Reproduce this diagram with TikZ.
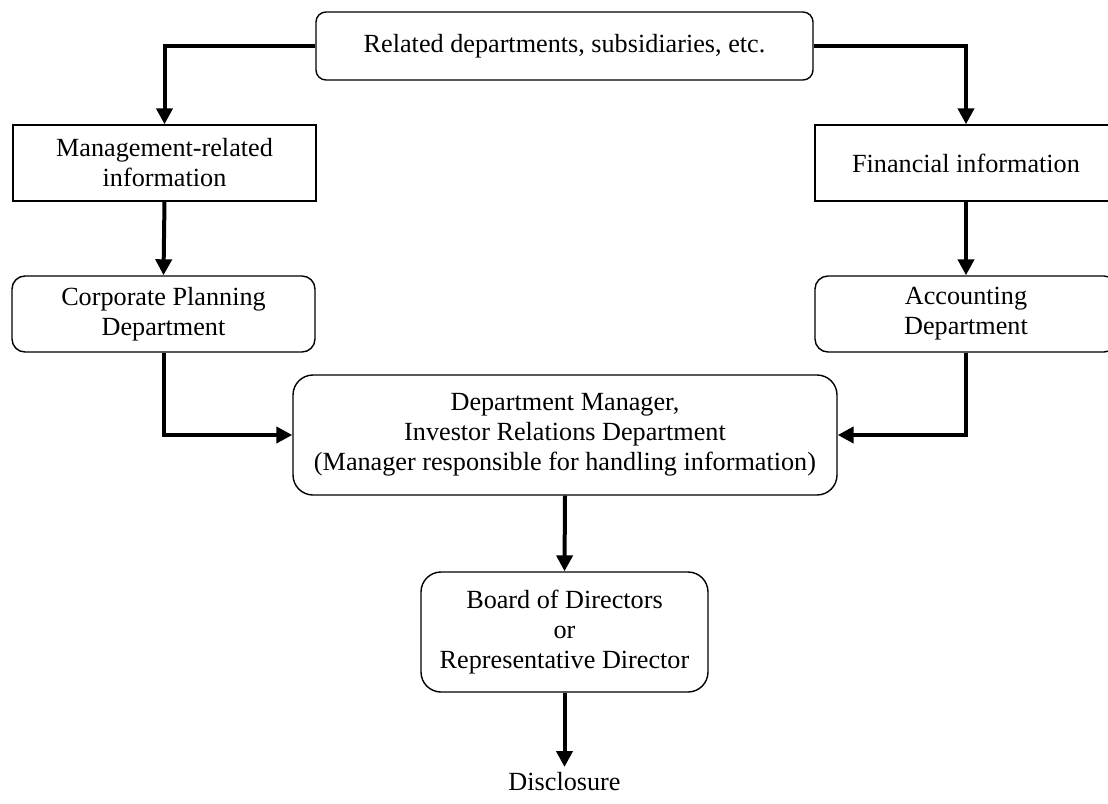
\documentclass[tikz,border=0pt]{standalone}
\usepackage{fontspec}
\setmainfont{Liberation Serif}
\usetikzlibrary{arrows.meta}
\begin{document}
\begin{tikzpicture}[x=0.5pt,y=-0.5pt,
  box/.style={draw=black, line width=0.7pt, inner sep=0pt, align=center,
    font=\fontsize{13.1}{15}\selectfont},
  rbox/.style={box, rounded corners=#1},
  conn/.style={line width=2pt, -{Triangle[width=8pt,length=8pt]}},
  lbl/.style={inner sep=0pt, font=\fontsize{13.1}{15}\selectfont}]
\useasboundingbox (0,0) rectangle (1108,803);
\clip (0,0) rectangle (1108,803);
\node[rbox=5pt, minimum width=248.5pt, minimum height=34pt] (top) at (564.5,46) {Related departments, subsidiaries, etc.};
\node[box, minimum width=151.5pt, minimum height=38pt] (mgmt) at (164.5,163) {Management-related\\information};
\node[box, minimum width=151pt, minimum height=38pt] (fin) at (966,163) {Financial information};
\node[rbox=6.5pt, minimum width=151.5pt, minimum height=38pt] (cp) at (163.5,314) {Corporate Planning\\Department};
\node[rbox=6.5pt, minimum width=151pt, minimum height=38pt] (acc) at (966,314) {Accounting\\Department};
\node[rbox=10pt, minimum width=272pt, minimum height=60pt] (mgr) at (565,435) {Department Manager,\\Investor Relations Department\\(Manager responsible for handling information)};
\node[rbox=10pt, minimum width=143.5pt, minimum height=60pt] (board) at (564.5,632) {Board of Directors\\or\\Representative Director};
\node[lbl, anchor=base] (disc) at (564.5,790) {Disclosure};
\coordinate (dtip) at (564.5,767);
\draw[conn] (top.west) -| (mgmt.north);
\draw[conn] (top.east) -| (fin.north);
\draw[conn] (mgmt.south) -- (cp.north);
\draw[conn] (fin.south) -- (acc.north);
\draw[conn] (cp.south) |- (mgr.west);
\draw[conn] (acc.south) |- (mgr.east);
\draw[conn] (mgr.south) -- (board.north);
\draw[conn] (board.south) -- (dtip);
\end{tikzpicture}
\end{document}
